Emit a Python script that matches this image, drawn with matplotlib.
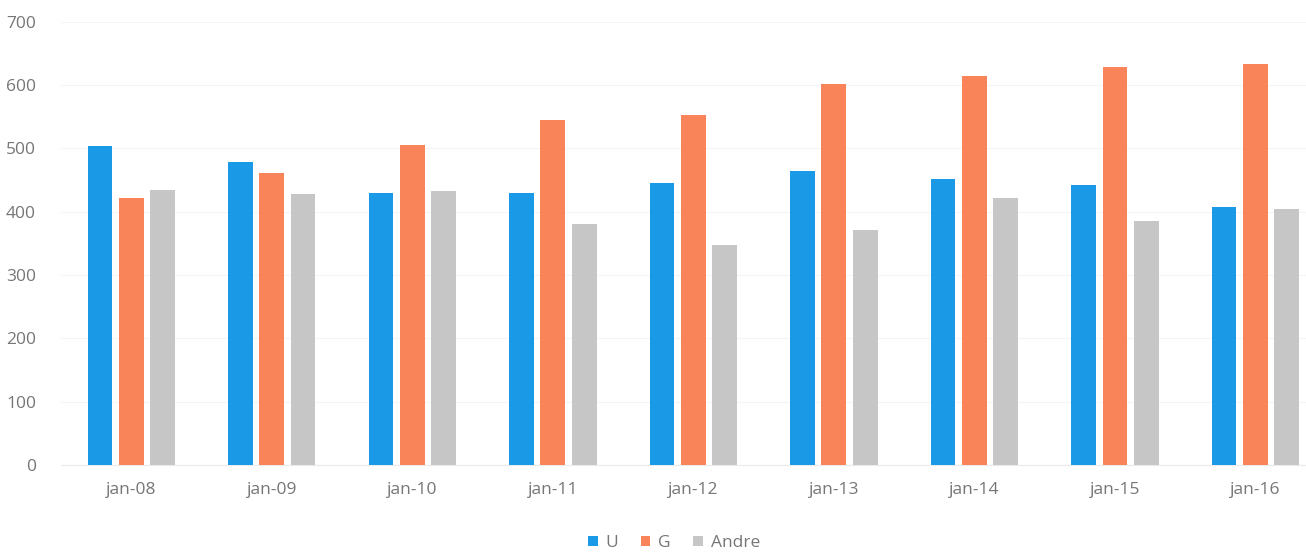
import matplotlib
matplotlib.use('Agg')
import matplotlib.pyplot as plt
import numpy as np

plt.rcParams['font.family'] = ['Open Sans', 'DejaVu Sans']

categories = ['jan-08', 'jan-09', 'jan-10', 'jan-11', 'jan-12',
              'jan-13', 'jan-14', 'jan-15', 'jan-16']
u_vals = [504, 479, 430, 430, 446, 464, 451, 442, 408]
g_vals = [421, 461, 505, 545, 553, 601, 614, 629, 633]
andre_vals = [434, 428, 432, 380, 348, 371, 422, 385, 405]
series_names = ['U', 'G', 'Andre']
yticks = [0, 100, 200, 300, 400, 500, 600, 700]

colors = ['#1a9ae6', '#f9845a', '#c6c6c6']
text_col = '#767676'

fig = plt.figure(figsize=(13.06, 5.55), dpi=100, facecolor='white')
ax = fig.add_axes([61/1306, 90/555, 1 - 61/1306, (465 - 21.7)/555])

x = np.arange(len(categories))
width = 0.176
pitch = 0.223
for i, (vals, name) in enumerate(zip([u_vals, g_vals, andre_vals], series_names)):
    ax.bar(x + (i - 1) * pitch, vals, width, color=colors[i], label=name, zorder=3)

ax.set_xlim(-0.5, 8.36)
ax.set_ylim(0, 700)
ax.set_yticks(yticks)
ax.set_xticks(x)
ax.set_xticklabels(categories)
ax.grid(axis='y', color='#f4f4f4', linewidth=0.8, zorder=0)

for spine in ax.spines.values():
    spine.set_visible(False)
ax.spines['bottom'].set_visible(True)
ax.spines['bottom'].set_color('#ebebeb')

ax.tick_params(axis='both', length=0, labelsize=12.5, labelcolor=text_col)
ax.tick_params(axis='y', pad=18)
ax.tick_params(axis='x', pad=12)

fig.legend(loc='center', bbox_to_anchor=(674/1306, 1 - 543/555), ncol=3,
           frameon=False, fontsize=12.5, labelcolor=text_col,
           handlelength=0.55, handleheight=0.55, handletextpad=0.45,
           columnspacing=1.3)

plt.savefig('out.png', dpi=100, facecolor='white')
